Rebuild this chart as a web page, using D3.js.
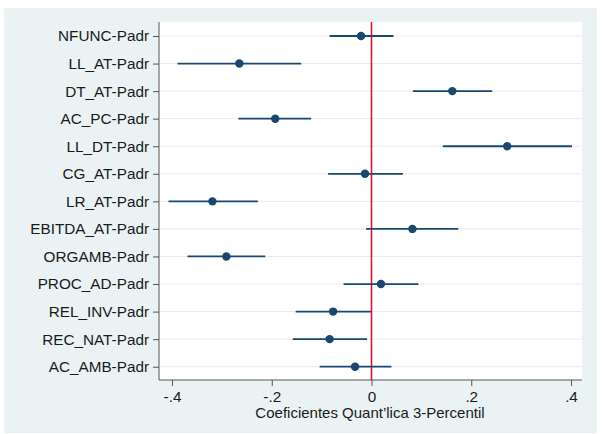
<!DOCTYPE html>
<html><head><meta charset="utf-8">
<script src="https://cdn.jsdelivr.net/npm/d3@7"></script>
<style>body{margin:0;background:#fff}svg{display:block}</style>
</head><body>
<svg id="c" width="602" height="434"></svg>
<script>
const categories = ["NFUNC-Padr","LL_AT-Padr","DT_AT-Padr","AC_PC-Padr","LL_DT-Padr","CG_AT-Padr","LR_AT-Padr","EBITDA_AT-Padr","ORGAMB-Padr","PROC_AD-Padr","REL_INV-Padr","REC_NAT-Padr","AC_AMB-Padr"];
const coef  = [-0.021,-0.265, 0.162,-0.193, 0.272,-0.013,-0.319, 0.082,-0.291, 0.019,-0.077,-0.084,-0.033];
const lower = [-0.084,-0.389, 0.083,-0.267, 0.143,-0.087,-0.407,-0.011,-0.369,-0.056,-0.152,-0.158,-0.104];
const upper = [ 0.044,-0.141, 0.242,-0.121, 0.402, 0.063,-0.228, 0.174,-0.213, 0.094,-0.001,-0.009, 0.040];
const xTicks = [-0.4,-0.2,0,0.2,0.4];
const xTickLabels = ["-.4","-.2","0",".2",".4"];
const xTitle = "Coeficientes Quant\u2019lica 3-Percentil";

const svg = d3.select("#c");
const font = "'Liberation Sans', Arial, Helvetica, sans-serif";
// outer panel
svg.append("rect").attr("x",4).attr("y",8).attr("width",593).attr("height",425).attr("fill","#eaf2f3");
const L=159, R=582, T=22, B=380;
svg.append("rect").attr("x",L).attr("y",T).attr("width",R-L).attr("height",B-T).attr("fill","#fff");

const x = d3.scaleLinear().domain([-0.4,0.4]).range([172,571]);
const y = d3.scalePoint().domain(categories).range([36,366.7]);

// gridlines
svg.append("g").selectAll("line").data(categories).join("line")
  .attr("x1",L+1).attr("x2",R).attr("y1",d=>y(d)).attr("y2",d=>y(d))
  .attr("stroke","#eaeaea").attr("stroke-width",1);

// zero line
svg.append("line").attr("x1",x(0)).attr("x2",x(0)).attr("y1",T).attr("y2",B)
  .attr("stroke","#d6153a").attr("stroke-width",1.6);

const color="#1a476f";
const rows = categories.map((c,i)=>({c,v:coef[i],lo:lower[i],hi:upper[i]}));
svg.append("g").selectAll("line").data(rows).join("line")
  .attr("x1",d=>x(d.lo)).attr("x2",d=>x(d.hi)).attr("y1",d=>y(d.c)).attr("y2",d=>y(d.c))
  .attr("stroke",color).attr("stroke-width",1.8);
svg.append("g").selectAll("circle").data(rows).join("circle")
  .attr("cx",d=>x(d.v)).attr("cy",d=>y(d.c)).attr("r",4.2).attr("fill",color);

// y axis
const ya = svg.append("g").attr("transform",`translate(${L},0)`)
  .call(d3.axisLeft(y).tickSize(6).tickPadding(4));
ya.select(".domain").attr("d",`M0,${T}V${B}`).attr("stroke","#555");
ya.selectAll(".tick line").attr("stroke","#555");
ya.selectAll("text").attr("font-family",font).attr("font-size",15.3).attr("fill","#1a1a1a");

// x axis
const xa = svg.append("g").attr("transform",`translate(0,${B})`)
  .call(d3.axisBottom(x).tickValues(xTicks).tickFormat((d,i)=>xTickLabels[i]).tickSize(6).tickPadding(5));
xa.select(".domain").attr("d",`M${L},0H${R}`).attr("stroke","#555");
xa.selectAll(".tick line").attr("stroke","#555");
xa.selectAll("text").attr("font-family",font).attr("font-size",15.3).attr("fill","#1a1a1a");

svg.append("text").attr("x",370).attr("y",418).attr("text-anchor","middle")
  .attr("font-family",font).attr("font-size",15).attr("fill","#1a1a1a").text(xTitle);
</script>
</body></html>
